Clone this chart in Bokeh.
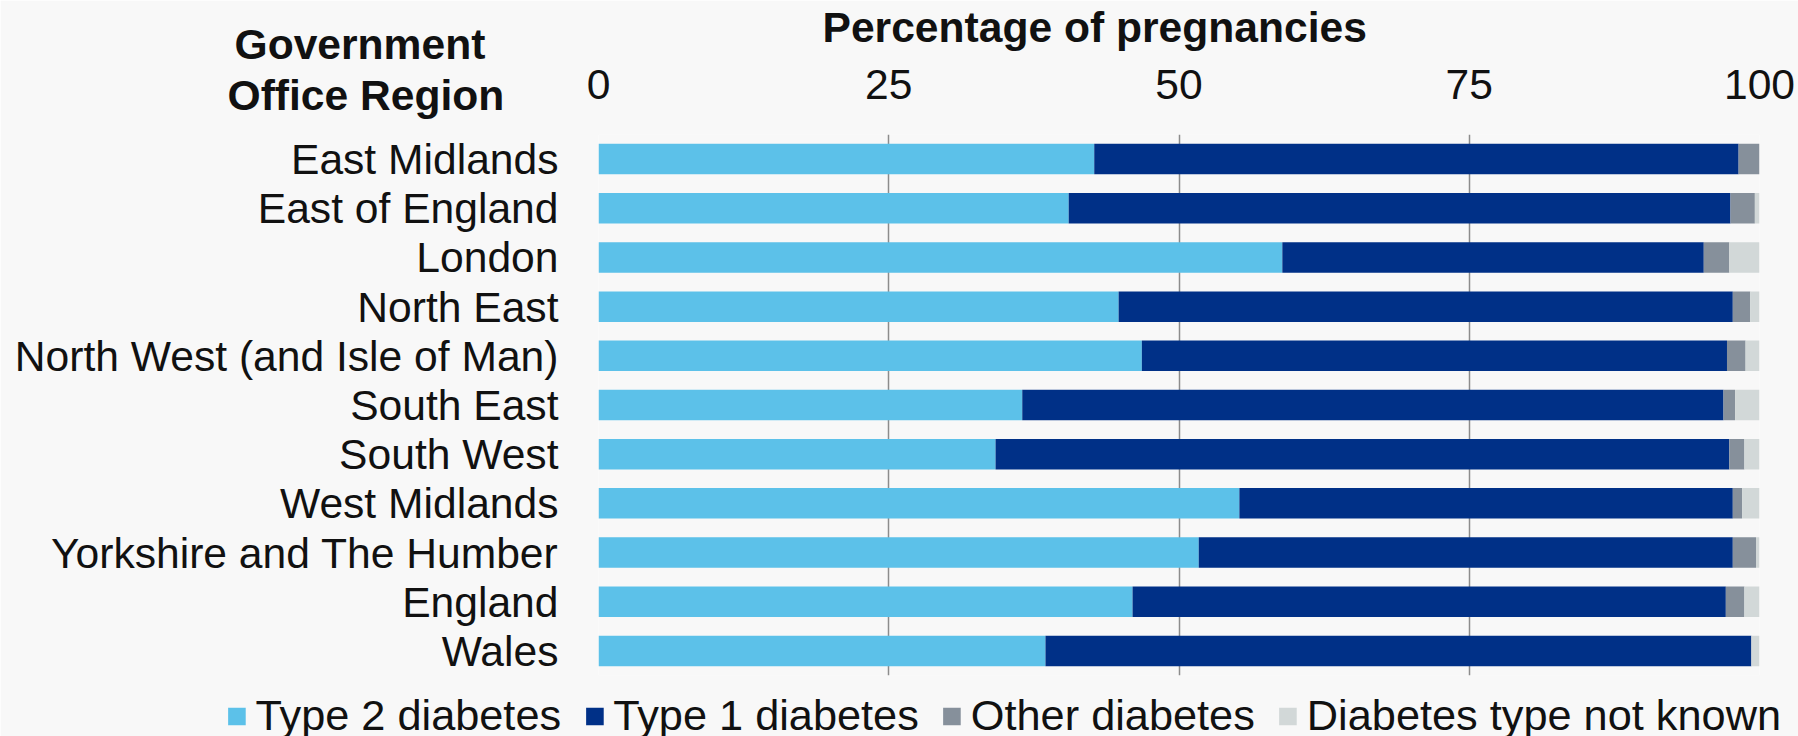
from bokeh.plotting import figure
from bokeh.models import FactorRange, FixedTicker, Legend, LegendItem, Title
from bokeh.embed import file_html
from bokeh.resources import INLINE

regions = ["East Midlands", "East of England", "London", "North East",
           "North West (and Isle of Man)", "South East", "South West",
           "West Midlands", "Yorkshire and The Humber", "England", "Wales"]
type2 = [42.7, 40.5, 58.9, 44.8, 46.8, 36.5, 34.2, 55.2, 51.7, 46.0, 38.5]
type1 = [55.5, 57.0, 36.3, 52.9, 50.4, 60.4, 63.2, 42.5, 46.0, 51.1, 60.8]
other = [1.8, 2.1, 2.2, 1.5, 1.6, 1.0, 1.3, 0.8, 2.0, 1.6, 0.0]
unknown = [0.0, 0.4, 2.6, 0.8, 1.2, 2.1, 1.3, 1.5, 0.3, 1.3, 0.7]
series = ["Type 2 diabetes", "Type 1 diabetes", "Other diabetes", "Diabetes type not known"]
colors = ["#5CC1E9", "#003087", "#86909B", "#D2D8D8"]
x_ticks = [0, 25, 50, 75, 100]
x_title = "Percentage of pregnancies"
y_title = ["Government", "Office Region"]

FONT = "Liberation Sans"
FS = "42.6px"
BG = "#F8F8F8"
TXT = "#111111"

data = {"region": regions, "t2": type2, "t1": type1, "oth": other, "unk": unknown}

p = figure(width=1798, height=736,
           y_range=FactorRange(factors=list(reversed(regions))), x_range=(0, 100),
           x_axis_location="above",
           frame_width=1161, frame_height=541,
           min_border_left=598, min_border_right=39,
           min_border_top=134, min_border_bottom=61,
           output_backend="svg", toolbar_location=None,
           background_fill_color=BG, border_fill_color=BG)
p.outline_line_color = None
p.title.text = ""
p.title.visible = False

renderers = p.hbar_stack(["t2", "t1", "oth", "unk"], y="region", height=0.62,
                         color=colors, source=data, line_width=0)

ax = p.xaxis[0]
ax.ticker = FixedTicker(ticks=x_ticks)
ax.axis_line_color = None
ax.major_tick_line_color = None
ax.minor_tick_line_color = None
ax.major_tick_out = 0
ax.major_tick_in = 0
ax.major_label_standoff = -45
ax.major_label_text_font = FONT
ax.major_label_text_font_size = FS
ax.major_label_text_color = TXT

ay = p.yaxis[0]
ay.axis_line_color = None
ay.major_tick_line_color = None
ay.major_tick_out = 0
ay.major_tick_in = 0
ay.major_label_standoff = 40
ay.major_label_text_font = FONT
ay.major_label_text_font_size = FS
ay.major_label_text_color = TXT

p.xgrid.ticker = FixedTicker(ticks=x_ticks)
p.xgrid.grid_line_color = "#8C8C8C"
p.xgrid.grid_line_width = 1.5
p.ygrid.grid_line_color = None


def head(text, offset, standoff):
    return Title(text=text, align="left", vertical_align="bottom", offset=offset,
                 standoff=standoff, text_font=FONT, text_font_size=FS,
                 text_font_style="bold", text_color=TXT)


office_t = head(y_title[1], -371, 31)
gov_t = head(y_title[0], -364, -29)
pct_t = head(x_title, 224, -37)
p.above = [office_t, ax, gov_t, pct_t]

legend = Legend(items=[LegendItem(label=s, renderers=[r]) for s, r in zip(series, renderers)],
                orientation="horizontal", location="top_right",
                glyph_width=22, glyph_height=22, label_standoff=8, spacing=22,
                padding=0, margin=-22, border_line_color=None,
                title=" ", title_text_font_size="10px", title_standoff=27,
                background_fill_alpha=0, label_text_font=FONT,
                label_text_font_size="43.3px", label_text_color=TXT)
p.add_layout(legend, "below")

open("out.html", "w").write(file_html(p, INLINE))
